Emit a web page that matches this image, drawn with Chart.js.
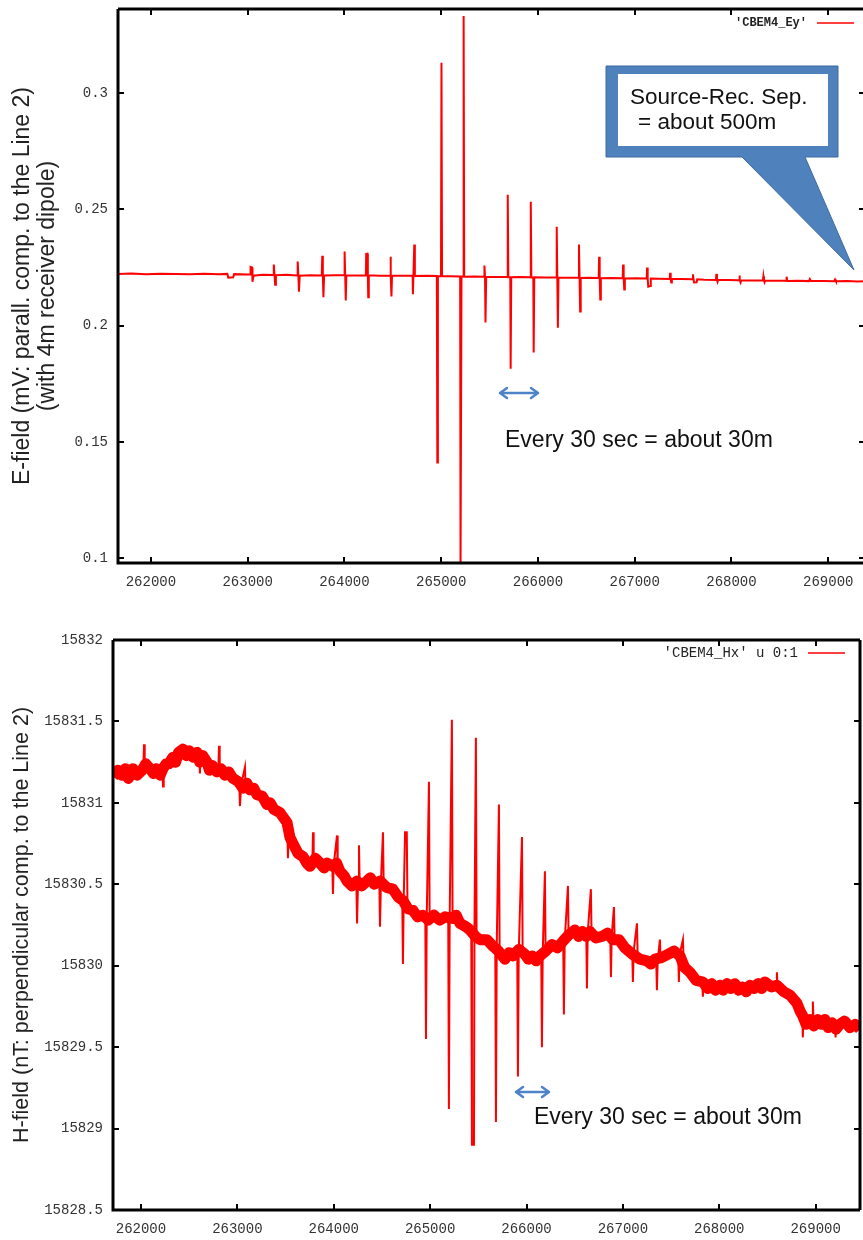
<!DOCTYPE html>
<html><head><meta charset="utf-8">
<script src="https://cdn.jsdelivr.net/npm/chart.js@4.4.0/dist/chart.umd.min.js"></script>
<style>
html,body{margin:0;padding:0;background:#fff;overflow:hidden;width:863px;height:1240px;position:relative}
#w1{position:absolute;left:0;top:0;width:868px;height:595px}
#w2{position:absolute;left:0;top:595px;width:868px;height:645px}
</style></head><body>
<div id="w1"><canvas id="c1" width="868" height="595"></canvas></div>
<div id="w2"><canvas id="c2" width="868" height="645"></canvas></div>
<script>
// ---------- DATA ----------
const xTickValues = [262000,263000,264000,265000,266000,267000,268000,269000];
const eLegend = "'CBEM4_Ey'";
const hLegend = "'CBEM4_Hx' u 0:1";

// E-field (top)
const eTime = [261660,261800,261950,262100,262250,262400,262550,262700,262790,262800,262850,262860,
263000,263025,263030,263045,263050,263060,263150,263265,263270,263278,263284,263292,263400,
263512,263517,263524,263530,263538,263650,263766,263771,263777,263783,263790,263900,
263997,264002,264008,264014,264020,264120,264222,264225,264238,264242,264246,264252,264360,
264472,264476,264481,264486,264492,264600,264705,264708,264713,264722,264728,264850,
264955,264960,264966,264998,265003,265009,265100,265196,265200,265210,265228,265232,265238,265340,
265443,265447,265453,265458,265465,265570,265684,265688,265694,265714,265718,265724,265810,
265922,265926,265932,265952,265956,265962,266080,266190,266194,266200,266206,266212,266320,
266420,266424,266430,266436,266442,266530,266628,266632,266638,266644,266650,266760,
266876,266880,266886,266892,266898,267010,267124,267128,267134,267140,267160,267166,267250,
267362,267366,267372,267378,267384,267480,267598,267602,267608,267614,267640,267646,267720,
267840,267844,267850,267856,267862,267960,268078,268082,268088,268094,268100,268200,
268325,268330,268336,268342,268348,268450,268565,268570,268576,268680,268800,268810,268820,
268950,269060,269070,269080,269200,269300,269380];
const eValue = [0.2222,0.2224,0.2221,0.2223,0.2222,0.2220,0.2223,0.2221,0.2222,0.2206,0.2207,0.2221,
0.2219,0.2219,0.2252,0.2250,0.2188,0.2214,0.2218,0.2217,0.2262,0.2217,0.2175,0.2216,0.2218,
0.2215,0.2275,0.2216,0.2145,0.2214,0.2216,0.2215,0.2300,0.2214,0.2122,0.2215,0.2216,
0.2216,0.2318,0.2213,0.2108,0.2216,0.2215,0.2215,0.2308,0.2309,0.2215,0.2122,0.2216,0.2214,
0.2214,0.2296,0.2214,0.2125,0.2215,0.2214,0.2214,0.2135,0.2214,0.2348,0.2213,0.2214,
0.2213,0.1412,0.2212,0.2213,0.3129,0.2212,0.2212,0.2211,0.0950,0.2211,0.2211,0.3330,0.2210,0.2211,
0.2210,0.2258,0.2210,0.2013,0.2210,0.2209,0.2209,0.2562,0.2208,0.2208,0.1815,0.2208,0.2209,
0.2208,0.2532,0.2207,0.2207,0.1884,0.2208,0.2207,0.2206,0.2425,0.2206,0.1991,0.2206,0.2205,
0.2205,0.2348,0.2205,0.2060,0.2204,0.2205,0.2204,0.2296,0.2204,0.2112,0.2203,0.2204,
0.2203,0.2262,0.2203,0.2155,0.2202,0.2203,0.2202,0.2249,0.2202,0.2167,0.2170,0.2202,0.2201,
0.2200,0.2227,0.2200,0.2185,0.2200,0.2200,0.2199,0.2220,0.2199,0.2185,0.2186,0.2199,0.2197,
0.2196,0.2222,0.2196,0.2188,0.2196,0.2196,0.2195,0.2215,0.2194,0.2185,0.2194,0.2194,
0.2194,0.2212,0.2193,0.2186,0.2193,0.2193,0.2193,0.2210,0.2192,0.2193,0.2191,0.2200,0.2191,
0.2192,0.2190,0.2198,0.2190,0.2191,0.2189,0.2190];

// H-field (bottom): noisy band (trend) and spikes
const hBandTime = [261710,261760,261800,261840,261870,261917,261960,262011,262050,262094,262130,262160,262200,262229,262260,262290,262332,262360,262390,262436,262470,262500,262540,262581,
262610,262640,262685,262710,262740,262789,262830,262870,262910,262955,263010,263058,263100,263130,263170,263204,263260,263307,263340,263380,263442,263490,263515,
263545,263577,263630,263681,263720,263753,263810,263857,263900,263930,263992,264030,264065,264110,264137,264190,264240,264290,264345,264380,264420,264480,
264550,264614,264670,264718,264770,264822,264870,264926,264980,265040,265100,265154,265230,265270,265310,265370,265413,265470,265517,
265590,265652,265710,265776,265820,265859,265920,265984,266020,266060,266100,266139,266200,266264,266320,266378,266440,266502,
266540,266580,266620,266658,266720,266782,266840,266896,266960,267020,267060,267100,267176,267250,267290,267332,267400,267467,267530,267592,
267640,267695,267760,267830,267880,267920,267960,268006,268040,268080,268120,268162,268200,268240,268280,268318,268360,268400,268440,268473,268540,268598,268670,268733,
268805,268840,268867,268900,268940,268980,269020,269060,269096,269130,269170,269210,269251,269300,269355,269410,269460];
const hBandValue = [15831.16,15831.20,15831.17,15831.21,15831.15,15831.21,15831.17,15831.20,15831.24,15831.21,15831.18,15831.21,15831.17,15831.21,15831.24,15831.24,15831.28,15831.25,15831.31,15831.33,15831.29,15831.32,15831.28,15831.31,
15831.25,15831.29,15831.25,15831.20,15831.23,15831.19,15831.21,15831.17,15831.19,15831.15,15831.13,15831.09,15831.12,15831.08,15831.09,15831.05,15831.04,15830.99,15831.00,15830.96,15830.94,15830.90,15830.88,
15830.79,15830.75,15830.69,15830.67,15830.63,15830.61,15830.66,15830.63,15830.60,15830.63,15830.61,15830.63,15830.58,15830.55,15830.52,15830.49,15830.52,15830.49,15830.52,15830.54,15830.50,15830.52,
15830.48,15830.47,15830.42,15830.40,15830.35,15830.34,15830.30,15830.31,15830.28,15830.31,15830.28,15830.30,15830.29,15830.31,15830.26,15830.24,15830.22,15830.18,15830.16,
15830.16,15830.12,15830.09,15830.04,15830.08,15830.06,15830.10,15830.07,15830.04,15830.06,15830.03,15830.06,15830.09,15830.13,15830.11,15830.15,15830.19,15830.22,
15830.18,15830.21,15830.18,15830.21,15830.17,15830.18,15830.20,15830.16,15830.16,15830.11,15830.09,15830.07,15830.04,15830.03,15830.01,15830.04,15830.05,15830.07,15830.09,15830.06,
15829.99,15829.96,15829.91,15829.90,15829.86,15829.89,15829.85,15829.88,15829.85,15829.89,15829.86,15829.89,15829.85,15829.87,15829.84,15829.88,15829.86,15829.89,15829.86,15829.90,15829.87,15829.88,15829.84,15829.82,
15829.77,15829.72,15829.69,15829.64,15829.67,15829.63,15829.67,15829.64,15829.67,15829.62,15829.65,15829.61,15829.64,15829.66,15829.62,15829.64,15829.61];

const hSpikeTime = [262025,262032,262039,null,262222,262229,262236,null,262605,262612,262619,null,262803,262810,262817,null,
263020,263027,263040,263079,263086,null,263518,263525,263532,null,263778,263785,263792,null,
263985,263992,264000,264034,264041,null,264235,264242,264252,264262,264269,null,
264473,264480,264490,264511,264518,null,264711,264718,264726,264740,264758,264765,null,
264950,264957,264965,264988,264995,null,265188,265195,265203,265226,265233,null,
265427,265434,265455,265460,265475,265482,null,265676,265683,265691,265714,265721,null,
265904,265911,265919,265953,265960,null,266153,266160,266168,266191,266198,null,
266381,266388,266396,266430,266437,null,266620,266627,266635,266668,266675,null,
266869,266876,266884,266907,266914,null,267097,267104,267112,267146,267153,null,
267346,267353,267361,267384,267391,null,267574,267581,267589,267623,267630,null,
267823,267830,267837,null,268591,268598,268605,null,268860,268867,268874,null,268964,268971,268978,null,
269200,269207,269214];
const hSpikeValue = [15831.21,15831.36,15831.21,null,15831.22,15831.10,15831.22,null,15831.29,15831.18,15831.29,null,15831.21,15831.35,15831.21,null,
15831.12,15830.98,15831.11,15831.22,15831.09,null,15830.86,15830.66,15830.83,null,15830.62,15830.82,15830.62,null,
15830.62,15830.44,15830.62,15830.80,15830.60,null,15830.51,15830.26,15830.51,15830.74,15830.51,null,
15830.52,15830.24,15830.52,15830.82,15830.51,null,15830.40,15830.01,15830.40,15830.82,15830.82,15830.38,null,
15830.30,15829.55,15830.30,15831.13,15830.30,null,15830.29,15829.12,15830.29,15831.51,15830.28,null,
15830.21,15828.90,15828.90,15830.20,15831.40,15830.19,null,15830.13,15829.04,15830.12,15830.99,15830.10,null,
15830.07,15829.32,15830.07,15830.79,15830.08,null,15830.06,15829.50,15830.07,15830.58,15830.08,null,
15830.14,15829.70,15830.15,15830.49,15830.16,null,15830.20,15829.86,15830.20,15830.47,15830.19,null,
15830.18,15829.93,15830.18,15830.36,15830.17,null,15830.09,15829.90,15830.09,15830.26,15830.07,null,
15830.03,15829.85,15830.03,15830.16,15830.04,null,15830.07,15829.90,15830.07,15830.16,15830.04,null,
15829.90,15829.81,15829.90,null,15829.87,15829.96,15829.87,null,15829.72,15829.56,15829.70,null,15829.66,15829.78,15829.66,null,
15829.64,15829.56,15829.64];

// ---------- HELPERS ----------
const pts = (xs, ys) => xs.map((x, i) => ({x: x, y: ys[i]}));
const fmt = v => String(+Number(v).toFixed(3));
const TICK_FONT = {family: "'Liberation Mono', 'DejaVu Sans Mono', monospace", size: 14};
const RED = '#ff0000';

function framePlugin(legendText, legendEnd, legendY, legendFont, drawRight) {
  return {
    id: 'frame',
    afterDatasetsDraw(chart) {
      const {ctx, chartArea: a, scales} = chart;
      const x = scales.x, y = scales.y;
      ctx.save();
      ctx.strokeStyle = '#000';
      ctx.lineCap = 'butt';
      ctx.lineWidth = 2;
      ctx.beginPath();
      x.ticks.forEach(t => {
        const px = Math.round(x.getPixelForValue(t.value));
        ctx.moveTo(px, a.bottom); ctx.lineTo(px, a.bottom - 6);
        ctx.moveTo(px, a.top); ctx.lineTo(px, a.top + 6);
      });
      y.ticks.forEach(t => {
        const py = Math.round(y.getPixelForValue(t.value));
        ctx.moveTo(a.left, py); ctx.lineTo(a.left + 6, py);
        ctx.moveTo(a.right, py); ctx.lineTo(a.right - 6, py);
      });
      ctx.stroke();
      ctx.lineWidth = 3;
      ctx.beginPath();
      ctx.moveTo(a.left, a.top); ctx.lineTo(a.left, a.bottom);
      ctx.lineTo(a.right, a.bottom);
      ctx.moveTo(a.left, a.top); ctx.lineTo(a.right, a.top);
      if (drawRight) { ctx.moveTo(a.right, a.top); ctx.lineTo(a.right, a.bottom); }
      ctx.stroke();
      ctx.font = legendFont;
      ctx.fillStyle = '#222';
      ctx.textAlign = 'right';
      ctx.textBaseline = 'middle';
      ctx.fillText(legendText, legendEnd, legendY);
      ctx.strokeStyle = RED;
      ctx.lineWidth = 1.5;
      ctx.beginPath();
      ctx.moveTo(legendEnd + 10, legendY); ctx.lineTo(legendEnd + 47, legendY);
      ctx.stroke();
      ctx.restore();
    }
  };
}

function drawDoubleArrow(ctx, x1, x2, y) {
  ctx.save();
  ctx.strokeStyle = '#4f83c7';
  ctx.lineWidth = 2.5;
  ctx.lineCap = 'round';
  ctx.lineJoin = 'round';
  ctx.beginPath();
  ctx.moveTo(x1, y); ctx.lineTo(x2, y);
  ctx.moveTo(x1 + 7, y - 5); ctx.lineTo(x1, y); ctx.lineTo(x1 + 7, y + 5);
  ctx.moveTo(x2 - 7, y - 5); ctx.lineTo(x2, y); ctx.lineTo(x2 - 7, y + 5);
  ctx.stroke();
  ctx.restore();
}

const ANNO_FONT = "23px 'Liberation Sans', Arial, sans-serif";

const topAnno = {
  id: 'topAnno',
  afterDraw(chart) {
    const ctx = chart.ctx;
    ctx.save();
    ctx.fillStyle = '#4f81bd';
    ctx.strokeStyle = '#3d6aa3';
    ctx.lineWidth = 1;
    ctx.beginPath();
    ctx.moveTo(606, 66); ctx.lineTo(838, 66); ctx.lineTo(838, 157);
    ctx.lineTo(805, 157); ctx.lineTo(854, 270); ctx.lineTo(742, 157);
    ctx.lineTo(606, 157); ctx.closePath();
    ctx.fill(); ctx.stroke();
    ctx.fillStyle = '#ffffff';
    ctx.fillRect(618, 74, 210, 72);
    ctx.fillStyle = '#111';
    ctx.font = "22.5px 'Liberation Sans', Arial, sans-serif";
    ctx.textAlign = 'left';
    ctx.textBaseline = 'alphabetic';
    ctx.fillText('Source-Rec. Sep.', 630, 104);
    ctx.fillText('= about 500m', 638, 129);
    drawDoubleArrow(ctx, 500, 538, 393);
    ctx.font = ANNO_FONT;
    ctx.fillText('Every 30 sec = about 30m', 505, 447);
    ctx.restore();
  }
};
const botAnno = {
  id: 'botAnno',
  afterDraw(chart) {
    const ctx = chart.ctx;
    ctx.save();
    drawDoubleArrow(ctx, 516, 549, 497);
    ctx.fillStyle = '#111';
    ctx.font = ANNO_FONT;
    ctx.textAlign = 'left';
    ctx.textBaseline = 'alphabetic';
    ctx.fillText('Every 30 sec = about 30m', 534, 529);
    ctx.restore();
  }
};

function axisX(min, max, h) {
  return {
    type: 'linear', min: min, max: max,
    afterBuildTicks(s) { s.ticks = xTickValues.map(v => ({value: v})); },
    afterFit(s) { s.height = h; s.paddingLeft = 0; s.paddingRight = 0; },
    grid: {display: false, drawTicks: false},
    border: {display: false},
    ticks: {autoSkip: false, maxRotation: 0, minRotation: 0, padding: 11,
            font: TICK_FONT, color: '#333', callback: v => String(v)}
  };
}
function axisY(min, max, step, w, title, tsize) {
  return {
    type: 'linear', min: min, max: max,
    afterFit(s) { s.width = w; s.paddingTop = 0; s.paddingBottom = 0; },
    grid: {display: false, drawTicks: false},
    border: {display: false},
    ticks: {stepSize: step, includeBounds: false, autoSkip: false, padding: 10,
            font: TICK_FONT, color: '#333', callback: v => fmt(v)},
    title: {display: true, text: title, color: '#222',
            font: {family: "'Liberation Sans', Arial, sans-serif", size: tsize, lineHeight: 1.05},
            padding: {top: 11, bottom: 0}}
  };
}

const common = {
  responsive: false, animation: false, devicePixelRatio: 1,
  plugins: {legend: {display: false}, tooltip: {enabled: false}},
  elements: {point: {radius: 0}, line: {tension: 0}}
};

new Chart(document.getElementById('c1'), {
  type: 'line',
  data: {datasets: [{label: eLegend, data: pts(eTime, eValue), borderColor: RED, borderWidth: 2,
                     fill: false, pointRadius: 0}]},
  options: Object.assign({}, common, {
    layout: {padding: {top: 9, right: 3, left: 0, bottom: 0}},
    scales: {
      x: axisX(261660, 269380, 32),
      y: axisY(0.098, 0.336, 0.05, 118,
               ['E-field (mV: parall. comp. to the Line 2)', '(with 4m receiver dipole)'], 23)
    }
  }),
  plugins: [framePlugin(eLegend, 807, 23, "bold 12px 'Liberation Mono', monospace", false), topAnno]
});

new Chart(document.getElementById('c2'), {
  type: 'line',
  data: {datasets: [
    {label: hLegend, data: pts(hBandTime, hBandValue), borderColor: RED, borderWidth: 11,
     borderJoinStyle: 'round', fill: false, pointRadius: 0},
    {label: 'spikes', data: pts(hSpikeTime, hSpikeValue), borderColor: RED, borderWidth: 2,
     fill: false, pointRadius: 0, spanGaps: false}
  ]},
  options: Object.assign({}, common, {
    layout: {padding: {top: 45, right: 8, left: 0, bottom: 0}},
    scales: {
      x: axisX(261710, 269460, 30),
      y: axisY(15828.5, 15832, 0.5, 113,
               'H-field (nT: perpendicular comp. to the Line 2)', 21.5)
    }
  }),
  plugins: [framePlugin(hLegend, 798, 58, "14px 'Liberation Mono', monospace", true), botAnno]
});
</script>
</body></html>
